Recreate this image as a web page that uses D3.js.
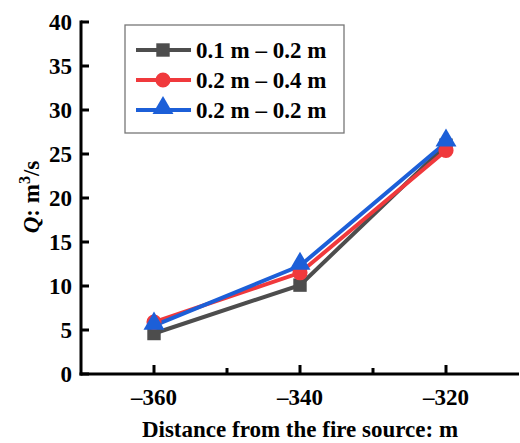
<!DOCTYPE html>
<html><head><meta charset="utf-8">
<script src="https://cdn.jsdelivr.net/npm/d3@7"></script>
<style>body{margin:0;background:#fff;} svg{display:block;} text{font-family:"Liberation Serif","Times New Roman",serif;font-weight:bold;}</style>
</head><body>
<script>
const distances = [-360, -340, -320];
const seriesNames = ["0.1 m \u2013 0.2 m", "0.2 m \u2013 0.4 m", "0.2 m \u2013 0.2 m"];
const grayValues = [4.6, 10.1, 26.0];
const redValues = [5.9, 11.5, 25.4];
const blueValues = [5.5, 12.3, 26.3];
const yTicks = [0, 5, 10, 15, 20, 25, 30, 35, 40];
const xTicks = [-360, -340, -320];
const xMinorTicks = [-360, -350, -340, -330, -320];

const colors = ["#4d4d4d", "#f0393c", "#1c5fd8"];
const symbols = [d3.symbolSquare, d3.symbolCircle, d3.symbolTriangle];
const series = [grayValues, redValues, blueValues];

const W = 520, H = 443;
const svg = d3.select("body").append("svg").attr("width", W).attr("height", H);
const fs = "23px";

const x = d3.scaleLinear().domain([-370, -310]).range([81, 519]);
const y = d3.scaleLinear().domain([0, 40]).range([374, 22]);

// axes
const gx = svg.append("g").attr("transform", `translate(0,${y(0)})`);
gx.append("line").attr("x1", x(-370) - 1.5).attr("x2", x(-310)).attr("stroke", "#000").attr("stroke-width", 3);
gx.selectAll("line.minor").data(xMinorTicks).enter().append("line")
  .attr("x1", d => x(d)).attr("x2", d => x(d))
  .attr("y1", 0).attr("y2", d => xTicks.includes(d) ? -9 : -6)
  .attr("stroke", "#000").attr("stroke-width", 3);
gx.selectAll("text").data(xTicks).enter().append("text")
  .attr("x", d => x(d)).attr("y", 31)
  .attr("text-anchor", "middle")
  .style("font-size", fs)
  .text(d => "\u2013" + Math.abs(d));

const gy = svg.append("g").attr("transform", `translate(${x(-370)},0)`);
gy.append("line").attr("y1", y(40) - 1.5).attr("y2", y(0) + 1.5).attr("stroke", "#000").attr("stroke-width", 3);
gy.selectAll("line.tick").data(yTicks).enter().append("line")
  .attr("y1", d => y(d)).attr("y2", d => y(d)).attr("x1", 0).attr("x2", 8)
  .attr("stroke", "#000").attr("stroke-width", 3);
gy.selectAll("text").data(yTicks).enter().append("text")
  .attr("x", -9).attr("y", d => y(d)).attr("dy", "0.35em")
  .attr("text-anchor", "end")
  .style("font-size", fs)
  .text(d => d);

// axis titles
svg.append("text").attr("x", 300).attr("y", 437).attr("text-anchor", "middle")
  .style("font-size", fs)
  .text("Distance from the fire source: m");

const yt = svg.append("text").attr("transform", "translate(39,197) rotate(-90)").attr("text-anchor", "middle")
  .style("font-size", fs);
yt.append("tspan").style("font-style", "italic").text("Q");
yt.append("tspan").text(": m");
yt.append("tspan").attr("dy", "-9").style("font-size", "16px").text("3");
yt.append("tspan").attr("dy", "9").text("/s");

// series
const line = d3.line().x((d, i) => x(distances[i])).y(d => y(d));
series.forEach((vals, k) => {
  svg.append("path").datum(vals).attr("d", line)
    .attr("fill", "none").attr("stroke", colors[k]).attr("stroke-width", 4)
    .attr("stroke-linejoin", "miter");
});
series.forEach((vals, k) => {
  svg.selectAll(null).data(vals).enter().append("path")
    .attr("d", d3.symbol().type(symbols[k]).size(k === 2 ? 190 : 180))
    .attr("transform", (d, i) => `translate(${x(distances[i])},${y(d) - (k === 2 ? 2 : 0)})`)
    .attr("fill", colors[k]);
});

// legend
const lg = svg.append("g");
lg.append("rect").attr("x", 125).attr("y", 25).attr("width", 219).attr("height", 108)
  .attr("fill", "#fff").attr("stroke", "#777").attr("stroke-width", 1.3);
const rowsY = [50, 80, 110];
seriesNames.forEach((name, k) => {
  lg.append("line").attr("x1", 136).attr("x2", 191).attr("y1", rowsY[k]).attr("y2", rowsY[k])
    .attr("stroke", colors[k]).attr("stroke-width", 4);
  lg.append("path").attr("d", d3.symbol().type(symbols[k]).size(k === 2 ? 190 : 180))
    .attr("transform", `translate(163,${rowsY[k] - (k === 2 ? 2 : 0)})`).attr("fill", colors[k]);
  lg.append("text").attr("x", 196).attr("y", rowsY[k]).attr("dy", "0.35em")
    .style("font-size", fs)
    .text(name);
});
</script>
</body></html>
